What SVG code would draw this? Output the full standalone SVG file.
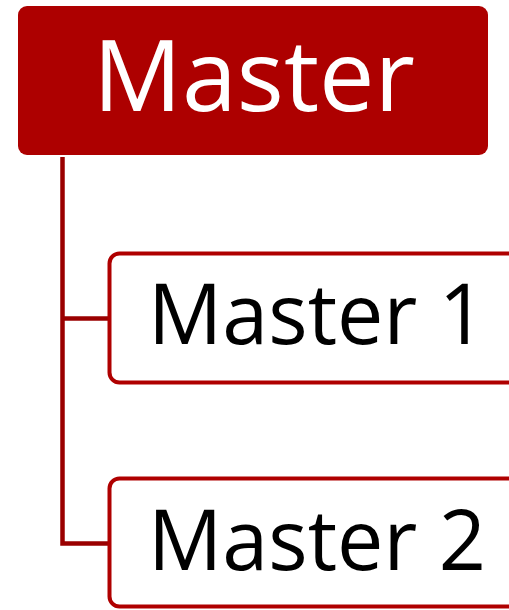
<svg xmlns="http://www.w3.org/2000/svg" width="509" height="610" viewBox="0 0 509 610">
<style>
.child{fill:#fff;stroke:#AF0000;stroke-width:4}
.conn{fill:none;stroke:#9A0000;stroke-width:4.5}
.t{font-family:"Open Sans","Noto Sans",sans-serif}
</style>
<rect width="509" height="610" fill="#fff"/>
<g id="connectors">
<path class="conn" d="M62.5 157 V543.5 H108"/>
<path class="conn" d="M62.5 318.5 H108"/>
</g>
<g id="master">
<rect x="18" y="6" width="470" height="149" rx="9" fill="#AD0000"/>
<text class="t" x="254" y="111" font-size="99" fill="#fff" text-anchor="middle" textLength="322" lengthAdjust="spacingAndGlyphs">Master</text>
</g>
<g id="master1">
<rect class="child" x="109.5" y="253.5" width="420" height="129" rx="10"/>
<text class="t" x="148" y="344" font-size="84" fill="#000" textLength="338" lengthAdjust="spacingAndGlyphs">Master 1</text>
</g>
<g id="master2">
<rect class="child" x="109.5" y="478.5" width="420" height="128" rx="10"/>
<text class="t" x="148" y="570" font-size="84" fill="#000" textLength="338" lengthAdjust="spacingAndGlyphs">Master 2</text>
</g>
</svg>
